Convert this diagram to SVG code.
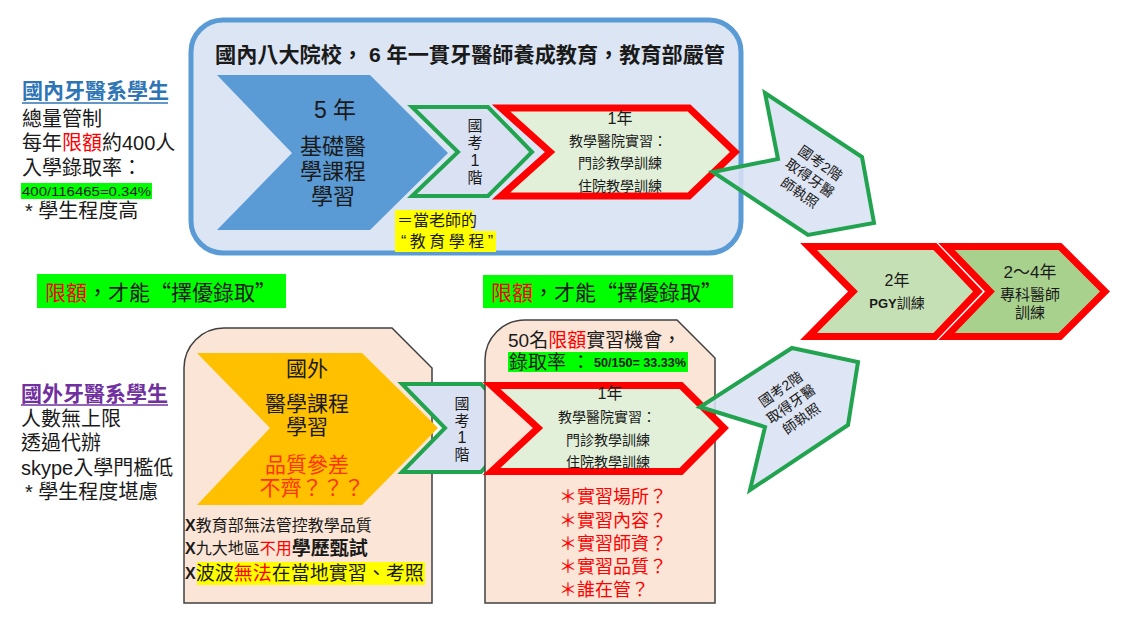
<svg xmlns="http://www.w3.org/2000/svg" width="1127" height="625" viewBox="0 0 1127 625">
<style>
text{font-family:"Liberation Sans","Noto Sans CJK TC",sans-serif;fill:#1a1a1a}
.c{text-anchor:middle;dominant-baseline:central}
.m{dominant-baseline:central}
.red{fill:#ff0000}
.gch{fill:#d9e1f2;stroke:#22a34f;stroke-width:4;stroke-linejoin:miter}
.rch{stroke:#ff0000;stroke-width:7;stroke-linejoin:miter}
.peach{fill:#fbe5d6;stroke:#404040;stroke-width:1.5}
.hlg{fill:#00ff00}
.hly{fill:#ffff00}
.lat{font-family:"Liberation Sans",Arial,sans-serif}
.arr2{fill:#d9e1f2;fill-opacity:0.88;stroke:#22a34f;stroke-width:4;stroke-linejoin:miter}
</style>

<g id="domestic-students">
<text x="22" y="90" class="m" font-size="21" font-weight="bold" style="fill:#2e75b6">國內牙醫系學生</text>
<line x1="22" y1="103" x2="168" y2="103" stroke="#2e75b6" stroke-width="1.5"/>
<rect x="21" y="183" width="131" height="16" class="hlg"/>
<text class="m" font-size="20"><tspan x="22" y="119">總量管制</tspan><tspan x="22" y="143">每年<tspan class="red">限額</tspan>約400人</tspan><tspan x="22" y="168">入學錄取率：</tspan><tspan x="22" y="191" class="lat" font-size="13" textLength="129" lengthAdjust="spacingAndGlyphs">400/116465=0.34%</tspan><tspan x="25" y="211">* 學生程度高</tspan></text>
</g>

<g id="domestic-box">
<rect x="191" y="20" width="550" height="233" rx="32" fill="#dbe5f3" stroke="#5b9bd5" stroke-width="5"/>
<text x="215" y="54" class="m" font-size="21" font-weight="bold" textLength="510" lengthAdjust="spacingAndGlyphs">國內八大院校， 6 年一貫牙醫師養成教育，教育部嚴管</text>
</g>

<g id="basic-course">
<polygon points="217,75 370,75 448,153 370,230 217,230 292,153" fill="#5b9bd5"/>
<text class="c" font-size="22"><tspan x="335" y="110" font-size="23">5 年</tspan><tspan x="333" y="146">基礎醫</tspan><tspan x="333" y="171">學課程</tspan><tspan x="333" y="196">學習</tspan></text>
</g>

<g id="exam1-top">
<polygon class="gch" points="412,107 488,107 532,152 488,196 412,196 458,152"/>
<text class="c" font-size="15"><tspan x="475" y="125">國</tspan><tspan x="475" y="142">考</tspan><tspan x="475" y="160" font-size="16">1</tspan><tspan x="475" y="177">階</tspan></text>
</g>

<g id="teacher-note">
<rect x="395" y="210" width="78" height="21" class="hly"/>
<rect x="395" y="231" width="101" height="21" class="hly"/>
<text class="m" font-size="16"><tspan x="397" y="220">＝當老師的</tspan><tspan x="401" y="241" textLength="92" lengthAdjust="spacing">“教育學程”</tspan></text>
</g>

<g id="internship-top">
<polygon class="rch" fill="#e2f0d9" points="501,108 689,108 735,152 689,196 501,196 550,152"/>
<text class="c" font-size="14"><tspan x="620" y="118" font-size="16">1年</tspan><tspan x="618" y="141">教學醫院實習：</tspan><tspan x="620" y="163">門診教學訓練</tspan><tspan x="620" y="186">住院教學訓練</tspan></text>
</g>

<g id="exam2-top">
<polygon class="arr2" points="765,93 862,157 874,223 808,235 713,172 778,159"/>
<text transform="translate(810,178) rotate(35)" class="c" font-size="14"><tspan x="0" y="-18">國考2階</tspan><tspan x="0" y="0">取得牙醫</tspan><tspan x="0" y="18">師執照</tspan></text>
</g>

<g id="label-left">
<rect x="37" y="274" width="249" height="34" class="hlg"/>
<text x="45" y="291" class="m" font-size="21" style="font-family:'Noto Sans CJK TC',sans-serif"><tspan class="red">限額</tspan>，才能“擇優錄取”</text>
</g>

<g id="label-right">
<rect x="483" y="275" width="250" height="33" class="hlg"/>
<text x="491" y="291" class="m" font-size="21" style="font-family:'Noto Sans CJK TC',sans-serif"><tspan class="red">限額</tspan>，才能“擇優錄取”</text>
</g>

<g id="pgy">
<polygon class="rch" fill="#c5e0b4" points="808.5,246.5 935,246.5 978,291.5 935,336.5 808.5,336.5 853,291.5"/>
<text class="c" font-size="14"><tspan x="897" y="280" font-size="16">2年</tspan><tspan x="897" y="303"><tspan class="lat" font-weight="bold" font-size="13">PGY</tspan>訓練</tspan></text>
</g>

<g id="specialist">
<polygon class="rch" fill="#a9d18e" points="946.5,246.5 1060,246.5 1105,291.5 1060,336.5 946.5,336.5 990,291.5"/>
<text class="c" font-size="15"><tspan x="1030" y="272" font-size="17">2～4年</tspan><tspan x="1030" y="294">專科醫師</tspan><tspan x="1030" y="312">訓練</tspan></text>
</g>

<g id="foreign-students">
<text x="21" y="393" class="m" font-size="21" font-weight="bold" style="fill:#7030a0">國外牙醫系學生</text>
<line x1="21" y1="405" x2="168" y2="405" stroke="#7030a0" stroke-width="1.5"/>
<text class="m" font-size="20"><tspan x="21" y="419">人數無上限</tspan><tspan x="21" y="443">透過代辦</tspan><tspan x="21" y="468">skype入學門檻低</tspan><tspan x="25" y="492">* 學生程度堪慮</tspan></text>
</g>

<g id="foreign-box">
<path class="peach" d="M184,368 A40,40 0 0 1 224,328 L392,328 L432,368 L432,603 L184,603 Z"/>
<rect x="197" y="562" width="228" height="23" class="hly"/>
<text class="m" font-size="16"><tspan x="185" y="525"><tspan font-weight="bold">X</tspan>教育部無法管控教學品質</tspan><tspan x="185" y="548"><tspan font-weight="bold">X</tspan>九大地區<tspan class="red">不用</tspan><tspan font-weight="bold" font-size="19">學歷甄試</tspan></tspan><tspan x="185" y="573" font-size="19"><tspan font-weight="bold" font-size="16">X</tspan>波波<tspan class="red">無法</tspan>在當地實習、考照</tspan></text>
</g>

<g id="foreign-course">
<polygon points="197,353 362,353 438,428 362,505 197,505 270,428" fill="#ffc000"/>
<text class="c" font-size="21"><tspan x="307" y="368">國外</tspan><tspan x="307" y="403">醫學課程</tspan><tspan x="307" y="426">學習</tspan><tspan x="307" y="464" style="fill:#ff3300">品質參差</tspan><tspan x="312" y="487" style="fill:#ff3300">不齊？？？</tspan></text>
</g>

<g id="exam1-bottom">
<polygon class="gch" points="402,384 481,384 520,428 481,472 402,472 445,428"/>
<text class="c" font-size="15"><tspan x="462" y="403">國</tspan><tspan x="462" y="420">考</tspan><tspan x="462" y="437" font-size="16">1</tspan><tspan x="462" y="454">階</tspan></text>
</g>

<g id="internship-box">
<path class="peach" d="M485,360 A40,40 0 0 1 525,320 L677,320 L715,358 L715,603 L485,603 Z"/>
<rect x="508" y="352" width="180" height="20" class="hlg"/>
<text class="m" font-size="19"><tspan x="508" y="340">50名<tspan class="red">限額</tspan>實習機會，</tspan><tspan x="509" y="362">錄取率 ：</tspan><tspan x="594" y="363" font-size="12" font-weight="bold" textLength="92" lengthAdjust="spacingAndGlyphs">50/150= 33.33%</tspan></text>
<text class="m red" font-size="18"><tspan x="559" y="497">＊實習場所？</tspan><tspan x="559" y="521">＊實習內容？</tspan><tspan x="559" y="544">＊實習師資？</tspan><tspan x="559" y="567">＊實習品質？</tspan><tspan x="559" y="590">＊誰在管？</tspan></text>
</g>

<g id="internship-bottom">
<polygon class="rch" fill="#e2f0d9" points="491.5,385.5 681,385.5 724,428 681,471.5 491.5,471.5 538,428"/>
<text class="c" font-size="14"><tspan x="610" y="393" font-size="16">1年</tspan><tspan x="607" y="417">教學醫院實習：</tspan><tspan x="608" y="440">門診教學訓練</tspan><tspan x="608" y="462">住院教學訓練</tspan></text>
</g>

<g id="exam2-bottom">
<polygon class="arr2" points="792,348 858,362 848,425 750,490 765,427 700,407"/>
<text transform="translate(791,404) rotate(-35)" class="c" font-size="14"><tspan x="0" y="-18">國考2階</tspan><tspan x="0" y="0">取得牙醫</tspan><tspan x="0" y="18">師執照</tspan></text>
</g>

<g id="connectors"></g>
</svg>
